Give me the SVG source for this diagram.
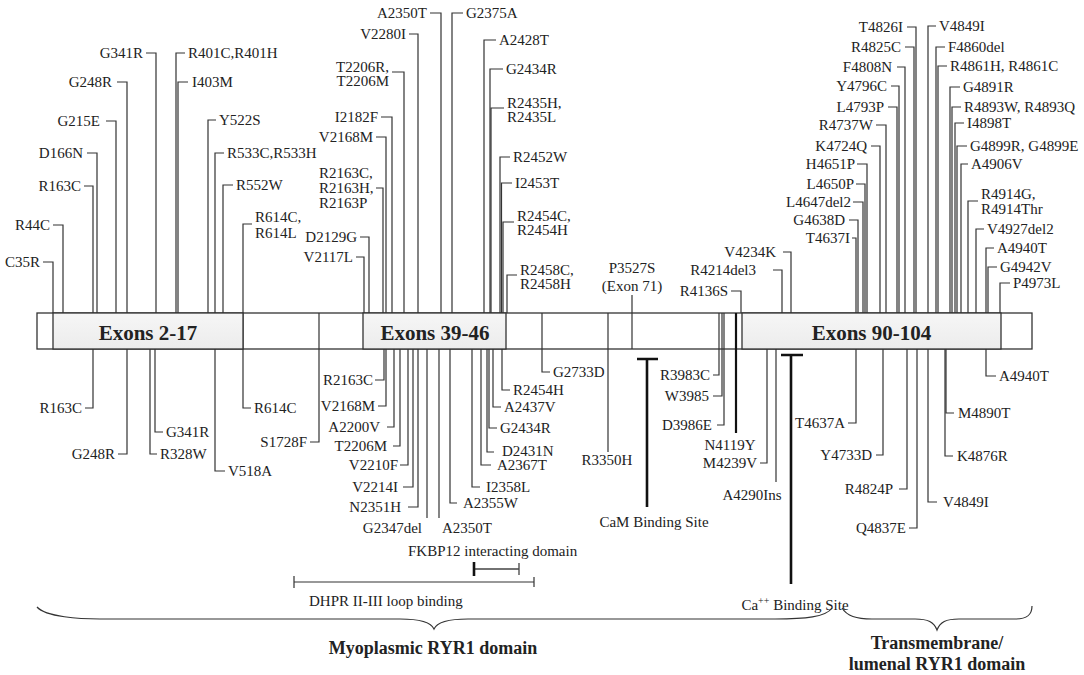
<svg xmlns="http://www.w3.org/2000/svg" width="1084" height="675" viewBox="0 0 1084 675">
<style>
text{font-family:"Liberation Serif","Times New Roman",serif;font-size:15px;fill:#222}
.e{text-anchor:end}.m{text-anchor:middle}
.b{font-weight:bold;font-size:21px}
.d{font-weight:bold;font-size:18px}
.c path{fill:none;stroke:#333;stroke-width:1.2}
.c path.k{stroke-width:2.2;stroke:#111}
.c path.t{stroke-width:2.6;stroke:#111}
.c path.g{stroke:#444;stroke-width:1.3}
.bar{fill:#fff;stroke:#333;stroke-width:1.3}
.ex{fill:url(#gr);stroke:#333;stroke-width:1.3}
</style>
<defs>
<linearGradient id="gr" x1="0" y1="0" x2="0" y2="1"><stop offset="0" stop-color="#f6f6f6"/><stop offset="1" stop-color="#ececec"/></linearGradient>
</defs>
<g id="rod"><rect class="bar" x="37" y="313" width="995" height="36"/></g>
<g id="connectors" class="c">
<path d="M53 313V262H43"/><path d="M63 313V225H53"/><path d="M93 313V186H84"/><path d="M97 313V153H87"/>
<path d="M116 313V121H106"/><path d="M127 313V82H117"/><path d="M156 313V53H146"/><path d="M176 313V53H185"/>
<path d="M178 313V82H188"/><path d="M208 313V120H216"/><path d="M215 313V153H224"/><path d="M223 313V185H233"/>
<path d="M252 224H243V408H251"/>
<path d="M364 313V257H356"/><path d="M369 313V237H360"/><path d="M383 313V188H376"/><path d="M386 313V137H376"/>
<path d="M392 313V117H381"/><path d="M404 313V72H392"/><path d="M418 313V34H409"/><path d="M441 313V13H430"/>
<path d="M452 313V13H463"/><path d="M484 313V40H496"/><path d="M490 313V69H503"/><path d="M491 313V108H504"/>
<path d="M500 313V157H510"/><path d="M501.5 313V183H512"/><path d="M503 313V222H514"/><path d="M507 313V275H517"/>
<path d="M632 295V349"/>
<path d="M741 313V291H731"/><path d="M782 313V270H773"/><path d="M791 313V252H783"/>
<path d="M856 313V238H852"/><path d="M858 313V220H849"/><path d="M863 313V202H853"/><path d="M865 313V184H856"/>
<path d="M867 313V164H857"/><path d="M880 313V146H871"/><path d="M886 313V125H876"/><path d="M897 313V107H888"/>
<path d="M899 313V86H891"/><path d="M905 313V67H897"/><path d="M914 313V47H905"/><path d="M916 313V27H907"/>
<path d="M928 313V26H936"/><path d="M936 313V47H945"/><path d="M938 313V66H947"/><path d="M950 313V87H960"/>
<path d="M952 313V107H961"/><path d="M955 313V123H964"/><path d="M957 313V146H967"/><path d="M961 313V164H968"/>
<path d="M968 313V201H978"/><path d="M976 313V229H984"/><path d="M994 248H986V376H996"/><path d="M988 313V267H997"/>
<path d="M1000 313V283H1010"/>
<path d="M93 349V408H85"/><path d="M127 349V454H118"/><path d="M150 349V454H157"/><path d="M155 349V432H163"/>
<path d="M215 349V471H225"/><path d="M319 313V442H310"/>
<path d="M384 349V380H375"/><path d="M386 349V406H378"/><path d="M394 349V427H387"/><path d="M400 349V446H393"/>
<path d="M408 349V465H400"/><path d="M413 349V487H403"/><path d="M418 349V507H408"/><path d="M427 349V518"/>
<path d="M439 349V518"/><path d="M450 349V503H457"/><path d="M472 349V487H480"/><path d="M481 349V465H491"/>
<path d="M487 349V452H494"/><path d="M489 349V428H497"/><path d="M493 349V407H501"/><path d="M502 349V390H510"/>
<path d="M542 313V372H550"/><path d="M608 313V452"/>
<path d="M719 313V375H713"/><path d="M722 313V396H713"/><path d="M724 313V425H717"/>
<path class="k" d="M736 313V433"/>
<path d="M767 349V463H760"/><path d="M776 349V482"/>
<path d="M856 349V423H848"/><path d="M883 349V455H876"/><path d="M907 349V489H899"/><path d="M917 349V528H909"/>
<path d="M928 349V502H937"/><path d="M945 349V456H953"/><path d="M946 349V413H954"/>
<path class="t" d="M637 359H658M647 359V507"/>
<path class="t" d="M781 355H803M791 355V584"/>
<path class="g" d="M474 569H519M519 563V575"/><path class="t" d="M474 562V576"/>
<path d="M294 582H534M294 576V588M534 577V587"/>
<path d="M37 607C46 617 80 619 100 619L400 619C420 619 431 622 434 629C437 622 448 619 468 619L775 619C805 619 826 617 832 608"/>
<path d="M842 608C847 616 856 619 872 619L915 619C928 619 934 622 937 630C940 622 946 619 959 619L1015 619C1027 619 1032 615 1032 606"/>
</g>
<g id="exons-2-17"><rect class="ex" x="53" y="313" width="190" height="36"/><text class="b m" x="148" y="340">Exons 2-17</text></g>
<g id="exons-39-46"><rect class="ex" x="363" y="313" width="143" height="36"/><text class="b m" x="435" y="340">Exons 39-46</text></g>
<g id="exons-90-104"><rect class="ex" x="742" y="313" width="259" height="36"/><text class="b m" x="871.5" y="340">Exons 90-104</text></g>
<g id="top-left">
<text class="e" x="40" y="267">C35R</text>
<text class="e" x="50" y="230">R44C</text>
<text class="e" x="81" y="191">R163C</text>
<text class="e" x="83" y="158">D166N</text>
<text class="e" x="100" y="126">G215E</text>
<text class="e" x="112" y="87">G248R</text>
<text class="e" x="143" y="58">G341R</text>
<text x="188" y="58">R401C,R401H</text>
<text x="192" y="87">I403M</text>
<text x="219" y="125">Y522S</text>
<text x="227" y="158">R533C,R533H</text>
<text x="236" y="190">R552W</text>
<text x="255" y="222">R614C,</text><text x="255" y="238">R614L</text>
</g>
<g id="top-middle">
<text class="e" x="353" y="262">V2117L</text>
<text class="e" x="357" y="242">D2129G</text>
<text x="319" y="178">R2163C,</text><text x="319" y="193">R2163H,</text><text x="319" y="208">R2163P</text>
<text class="e" x="373" y="142">V2168M</text>
<text class="e" x="378" y="122">I2182F</text>
<text class="e" x="389" y="72">T2206R,</text><text class="e" x="389" y="86">T2206M</text>
<text class="e" x="406" y="39">V2280I</text>
<text class="e" x="427" y="18">A2350T</text>
<text x="466" y="18">G2375A</text>
<text x="499" y="45">A2428T</text>
<text x="506" y="74">G2434R</text>
<text x="507" y="108">R2435H,</text><text x="507" y="122">R2435L</text>
<text x="513" y="162">R2452W</text>
<text x="515" y="188">I2453T</text>
<text x="517" y="221">R2454C,</text><text x="517" y="235">R2454H</text>
<text x="520" y="275">R2458C,</text><text x="520" y="289">R2458H</text>
<text class="m" x="632" y="273">P3527S</text><text class="m" x="632" y="291">(Exon 71)</text>
<text class="e" x="728" y="296">R4136S</text>
<text class="e" x="756" y="275">R4214del3</text>
<text class="e" x="776" y="257">V4234K</text>
</g>
<g id="top-right">
<text class="e" x="850" y="243">T4637I</text>
<text class="e" x="845" y="225">G4638D</text>
<text class="e" x="851" y="207">L4647del2</text>
<text class="e" x="854" y="189">L4650P</text>
<text class="e" x="855" y="169">H4651P</text>
<text class="e" x="867" y="151">K4724Q</text>
<text class="e" x="873" y="130">R4737W</text>
<text class="e" x="884" y="112">L4793P</text>
<text class="e" x="887" y="91">Y4796C</text>
<text class="e" x="892" y="72">F4808N</text>
<text class="e" x="901" y="52">R4825C</text>
<text class="e" x="903" y="32">T4826I</text>
<text x="939" y="31">V4849I</text>
<text x="948" y="52">F4860del</text>
<text x="950" y="71">R4861H, R4861C</text>
<text x="963" y="92">G4891R</text>
<text x="964" y="112">R4893W, R4893Q</text>
<text x="967" y="128">I4898T</text>
<text x="970" y="151">G4899R, G4899E</text>
<text x="971" y="169">A4906V</text>
<text x="981" y="199">R4914G,</text><text x="981" y="214">R4914Thr</text>
<text x="987" y="234">V4927del2</text>
<text x="997" y="253">A4940T</text>
<text x="1000" y="272">G4942V</text>
<text x="1013" y="288">P4973L</text>
</g>
<g id="bottom-left">
<text class="e" x="82" y="413">R163C</text>
<text class="e" x="115" y="459">G248R</text>
<text x="160" y="459">R328W</text>
<text x="166" y="437">G341R</text>
<text x="228" y="476">V518A</text>
<text x="254" y="413">R614C</text>
<text class="e" x="307" y="447">S1728F</text>
</g>
<g id="bottom-middle">
<text class="e" x="373" y="385">R2163C</text>
<text class="e" x="375" y="411">V2168M</text>
<text class="e" x="380" y="432">A2200V</text>
<text class="e" x="387" y="451">T2206M</text>
<text class="e" x="398" y="470">V2210F</text>
<text class="e" x="398" y="492">V2214I</text>
<text class="e" x="401" y="512">N2351H</text>
<text class="e" x="422" y="533">G2347del</text>
<text x="442" y="533">A2350T</text>
<text x="463" y="508">A2355W</text>
<text x="486" y="492">I2358L</text>
<text x="497" y="470">A2367T</text>
<text x="502" y="456">D2431N</text>
<text x="500" y="433">G2434R</text>
<text x="504" y="412">A2437V</text>
<text x="513" y="395">R2454H</text>
<text x="553" y="377">G2733D</text>
<text class="m" x="607" y="465">R3350H</text>
<text class="e" x="710" y="380">R3983C</text>
<text class="e" x="709" y="401">W3985</text>
<text class="e" x="712" y="430">D3986E</text>
<text class="m" x="730" y="450">N4119Y</text>
<text class="e" x="757" y="468">M4239V</text>
<text class="m" x="752" y="500">A4290Ins</text>
</g>
<g id="bottom-right">
<text class="e" x="845" y="428">T4637A</text>
<text class="e" x="872" y="460">Y4733D</text>
<text class="e" x="893" y="494">R4824P</text>
<text class="e" x="906" y="533">Q4837E</text>
<text x="943" y="507">V4849I</text>
<text x="957" y="461">K4876R</text>
<text x="958" y="418">M4890T</text>
<text x="999" y="381">A4940T</text>
</g>
<g id="cam-site"><text class="m" x="654" y="527">CaM Binding Site</text></g>
<g id="ca-site"><text class="m" x="795" y="610">Ca<tspan font-size="10" dy="-6">++</tspan><tspan dy="6"> Binding Site</tspan></text></g>
<g id="fkbp12"><text x="408" y="556">FKBP12 interacting domain</text></g>
<g id="dhpr"><text x="309" y="606">DHPR II-III loop binding</text></g>
<g id="myoplasmic"><text class="d m" x="433" y="654">Myoplasmic RYR1 domain</text></g>
<g id="transmembrane"><text class="d m" x="937" y="649">Transmembrane/</text><text class="d m" x="937" y="670">lumenal RYR1 domain</text></g>
</svg>
